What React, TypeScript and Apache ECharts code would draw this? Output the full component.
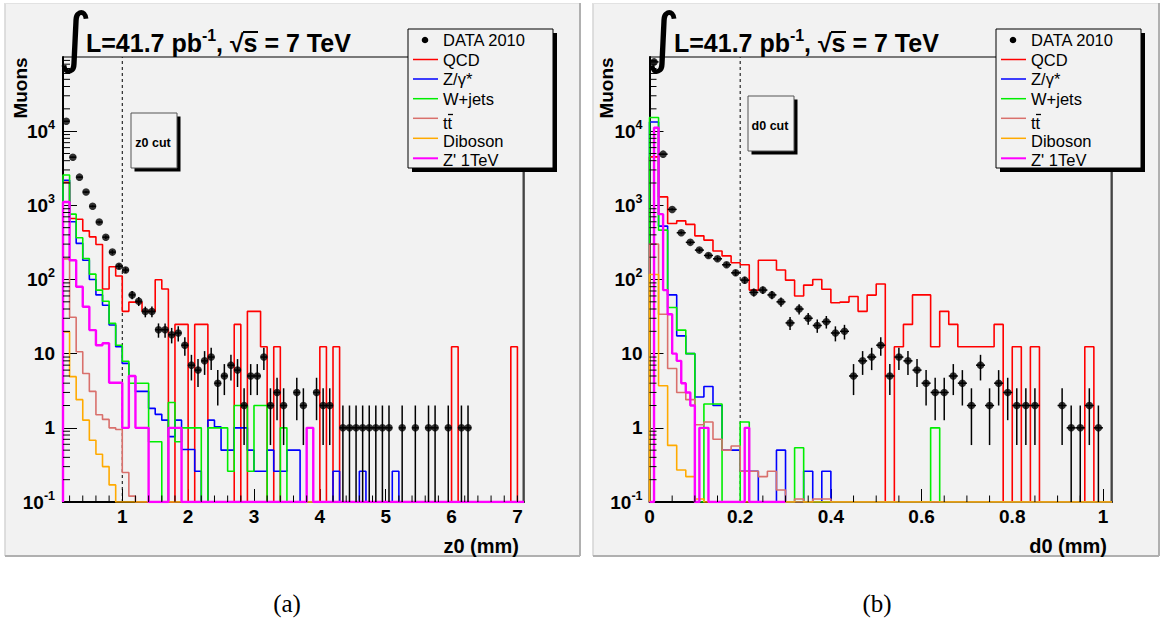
import React, { useEffect, useRef } from "react";
import * as echarts from "echarts";

// ---------------- axes ----------------
const Y_MIN = 0.1;
const Y_MAX = 100000;
const yTickValues = [0.1, 1, 10, 100, 1000, 10000];
const yMinorTickValues = [
  0.2, 0.3, 0.4, 0.5, 0.6, 0.7, 0.8, 0.9,
  2, 3, 4, 5, 6, 7, 8, 9,
  20, 30, 40, 50, 60, 70, 80, 90,
  200, 300, 400, 500, 600, 700, 800, 900,
  2000, 3000, 4000, 5000, 6000, 7000, 8000, 9000,
  20000, 30000, 40000, 50000, 60000, 70000, 80000, 90000,
];

const Z0_MIN = 0.1;
const Z0_MAX = 7.1;
const Z0_BW = 0.1;
const z0TickValues = [1, 2, 3, 4, 5, 6, 7];
const z0MinorTickValues = [
  0.2, 0.4, 0.6, 0.8, 1.2, 1.4, 1.6, 1.8, 2.2, 2.4, 2.6, 2.8, 3.2, 3.4, 3.6, 3.8,
  4.2, 4.4, 4.6, 4.8, 5.2, 5.4, 5.6, 5.8, 6.2, 6.4, 6.6, 6.8, 7.0,
];
const Z0_CUT = 1;

const D0_MIN = 0;
const D0_MAX = 1.02;
const D0_BW = 0.02;
const D0_ZP_BW = 0.01;
const d0TickValues = [0, 0.2, 0.4, 0.6, 0.8, 1];
const d0MinorTickValues = [
  0.05, 0.1, 0.15, 0.25, 0.3, 0.35, 0.45, 0.5, 0.55, 0.65, 0.7, 0.75, 0.85, 0.9, 0.95,
];
const D0_CUT = 0.2;

// ---------------- z0 histograms (bins of 0.1 from 0.1) ----------------
const z0Data = [
  13600, 4460, 2400, 1510, 970, 595, 372, 234, 151, 134,
  62, 51, 37, 37, 21, 21, 18, 19, 13, 7,
  6, 8, 9, 4, 5, 7, 6, 2, 5, 5,
  9, 2, 3, 2, 0, 3, 2, 0, 3, 2,
  2, 0, 1, 1, 1, 1, 1, 1, 1, 1,
  0, 1, 0, 1, 0, 1, 1, 0, 1, 0,
  1, 1, 0, 0, 0, 0, 0, 0, 0, 0,
];
const z0QCD = [
  2040, 666, 650, 453, 376, 297, 74.4, 148.8, 111.6, 37.2,
  49.6, 49.6, 37.2, 37.2, 99.2, 74.4, 0, 24.8, 24.8, 0,
  24.8, 24.8, 0, 0, 0, 0, 24.8, 0, 37.2, 37.2,
  12.4, 0, 12.4, 0, 0, 0, 0, 0, 0, 12.4,
  0, 12.4, 0, 0, 0, 0, 0, 0, 0, 0,
  0, 0, 0, 0, 0, 0, 0, 0, 0, 12.4,
  0, 0, 0, 0, 0, 0, 0, 0, 12.4, 0,
];
const z0Zgamma = [
  2180, 600, 307, 182, 100, 62, 45, 24.4, 12.4, 7.4,
  5, 3.1, 3.1, 1.83, 1.52, 1.27, 0.76, 1.27, 0.51, 0.51,
  0.26, 0, 1.27, 1.03, 0.5, 0.5, 1.0, 1.0, 0.5, 0.26,
  0.26, 0.5, 0.26, 0.26, 0.5, 0.5, 0, 0, 0, 0,
  0, 0.26, 0, 0, 0, 0.26, 0, 0, 0, 0,
  0.26, 0, 0, 0, 0, 0, 0, 0, 0, 0,
  0, 0, 0, 0, 0, 0, 0, 0, 0, 0,
];
const z0Wjets = [
  2570, 760, 365, 192, 118, 72, 51, 25.6, 13, 7.9,
  4, 4, 4, 0.65, 0.65, 0, 2.2, 0.65, 1, 1,
  1, 0, 1, 1, 1, 0.26, 2, 2, 0.26, 2,
  2, 0, 0, 1, 0, 0, 0, 0, 0, 0,
  0, 0, 0, 0, 0, 0, 0, 0, 0, 0,
  0, 0, 0, 0, 0, 0, 0, 0, 0, 0,
  0, 0, 0, 0, 0, 0, 0, 0, 0, 0,
];
const z0TTbar = [
  190, 31, 10.6, 5.4, 3.1, 1.5, 1.3, 1.0, 0.95, 0.25,
  0.12, 0, 0, 0, 0, 0, 0, 0, 0, 0,
  0, 0, 0, 0, 0, 0, 0, 0, 0, 0,
  0, 0, 0, 0, 0, 0, 0, 0, 0, 0,
  0, 0, 0, 0, 0, 0, 0, 0, 0, 0,
  0, 0, 0, 0, 0, 0, 0, 0, 0, 0,
  0, 0, 0, 0, 0, 0, 0, 0, 0, 0,
];
const z0Diboson = [
  19.7, 4.9, 2.4, 1.27, 0.68, 0.44, 0.3, 0.17, 0.1, 0,
  0, 0, 0, 0, 0, 0, 0, 0, 0, 0,
  0, 0, 0, 0, 0, 0, 0, 0, 0, 0,
  0, 0, 0, 0, 0, 0, 0, 0, 0, 0,
  0, 0, 0, 0, 0, 0, 0, 0, 0, 0,
  0, 0, 0, 0, 0, 0, 0, 0, 0, 0,
  0, 0, 0, 0, 0, 0, 0, 0, 0, 0,
];
const z0Zprime = [
  1110, 182, 80, 43, 20.8, 13, 13.8, 4.06, 4.06, 1,
  5, 1, 1, 0, 0, 0, 1, 1, 0, 0,
  0, 0, 0, 0, 0, 0, 0, 0, 0, 0,
  0, 0, 0, 0, 0, 0, 0, 1, 0, 0,
  0, 0, 0, 0, 0, 0, 0, 0, 0, 0,
  0, 0, 0, 0, 0, 0, 0, 0, 0, 0,
  0, 0, 0, 0, 0, 0, 0, 0, 0, 0,
];

// ---------------- d0 histograms (bins of 0.02 from 0) ----------------
const d0Data = [
  85900, 4900, 881, 427, 317, 249, 211, 190, 158, 123,
  98, 67, 72, 62, 50, 26, 40, 30, 24, 27,
  19, 20, 5, 8, 9, 13, 5, 9, 8, 6,
  4, 3, 3, 5, 4, 2, 7, 2, 4, 3,
  2, 2, 2, 0, 0, 2, 1, 1, 2, 1,
  0,
];
const d0QCD = [
  4500, 1300, 570, 618, 553, 388, 340, 242, 208, 168,
  158, 72, 182, 182, 134, 98, 60, 84, 100, 74,
  48.5, 49.6, 59, 37.2, 61.6, 86.8, 0, 12.4, 24.8, 62,
  62, 12.4, 37.2, 24.8, 12.4, 12.4, 12.4, 12.4, 24.8, 0,
  12.4, 0, 12.4, 0, 0, 0, 0, 0, 12.4, 0,
  0,
];
const d0Zgamma = [
  13300, 525, 62, 17.4, 10, 2.6, 3.6, 2, 0.5, 0.5,
  0.26, 0.26, 0, 0, 0.5, 0, 0, 0.26, 0, 0.26,
  0, 0, 0, 0, 0, 0, 0, 0, 0, 0,
  0, 0, 0, 0, 0, 0, 0, 0, 0, 0,
  0, 0, 0, 0, 0, 0, 0, 0, 0, 0,
  0,
];
const d0Wjets = [
  15300, 463, 42, 20.8, 10, 0, 2.1, 2.1, 0, 0,
  1.2, 0, 0, 0, 0, 0, 0.54, 0, 0, 0,
  0, 0, 0, 0, 0, 0, 0, 0, 0, 0,
  0, 1, 0, 0, 0, 0, 0, 0, 0, 0,
  0, 0, 0, 0, 0, 0, 0, 0, 0, 0,
  0,
];
const d0TTbar = [
  300, 34, 6.3, 3, 2.4, 1.1, 1.2, 0.7, 0.5, 0.57,
  0.26, 0.26, 0.22, 0.26, 0.145, 0, 0.11, 0, 0.11, 0.11,
  0, 0, 0, 0, 0, 0, 0, 0, 0, 0,
  0, 0, 0, 0, 0, 0, 0, 0, 0, 0,
  0, 0, 0, 0, 0, 0, 0, 0, 0, 0,
  0,
];
const d0Diboson = [
  117, 3.7, 0.58, 0.27, 0.22, 0.11, 0, 0, 0, 0,
  0, 0, 0, 0, 0, 0, 0, 0, 0, 0,
  0, 0, 0, 0, 0, 0, 0, 0, 0, 0,
  0, 0, 0, 0, 0, 0, 0, 0, 0, 0,
  0, 0, 0, 0, 0, 0, 0, 0, 0, 0,
  0,
];
// Z' uses bins of 0.01
const d0Zprime = [
  0, 11100, 760, 72, 34, 10, 8, 4, 3, 2,
  0, 1, 1, 0, 0, 0, 0, 0, 0, 0,
  0, 1, 0, 0, 0, 0, 0, 0, 0, 0,
];

const legendLabels = ["DATA 2010", "QCD", "Z/\u03b3*", "W+jets", "tt", "Diboson", "Z' 1TeV"];
const C_QCD = "#ff0000";
const C_Z = "#0000ff";
const C_W = "#00ee00";
const C_TT = "#d9706c";
const C_DIB = "#ffaa00";
const C_ZP = "#ff00ff";
const lineColors = [C_QCD, C_Z, C_W, C_TT, C_DIB, C_ZP];

const FONT = "Liberation Sans";

// ---------------- helpers ----------------
function steps(vals: number[], x0: number, w: number) {
  const pts: number[][] = [[x0, Y_MIN]];
  vals.forEach((v, i) => {
    const y = Math.max(v, Y_MIN);
    pts.push([x0 + i * w, y], [x0 + (i + 1) * w, y]);
  });
  pts.push([x0 + vals.length * w, Y_MIN]);
  return pts;
}

function histSeries(vals: number[], x0: number, w: number, ax: number, color: string, width: number) {
  return {
    type: "line",
    xAxisIndex: ax,
    yAxisIndex: ax,
    data: steps(vals, x0, w),
    symbol: "none",
    showSymbol: false,
    silent: true,
    clip: true,
    lineStyle: { color, width },
    z: 3,
  };
}

function dataSeries(vals: number[], x0: number, w: number, ax: number) {
  const pts: number[][] = [];
  vals.forEach((v, i) => {
    if (v > 0) pts.push([x0 + (i + 0.5) * w, v]);
  });
  return {
    type: "scatter",
    xAxisIndex: ax,
    yAxisIndex: ax,
    data: pts,
    symbol: "circle",
    symbolSize: 7.5,
    silent: true,
    itemStyle: { color: "#000" },
    z: 6,
  };
}

function errSeries(vals: number[], x0: number, w: number, ax: number) {
  const d: number[][] = [];
  vals.forEach((v, i) => {
    if (v > 0) {
      const e = Math.sqrt(v);
      d.push([x0 + (i + 0.5) * w, v, Math.max(v - e, Y_MIN), v + e, w]);
    }
  });
  return {
    type: "custom",
    xAxisIndex: ax,
    yAxisIndex: ax,
    data: d,
    clip: true,
    silent: true,
    encode: { x: 0, y: 1 },
    z: 5,
    renderItem: (_p: any, api: any) => {
      const x = api.value(0);
      const v = api.value(1);
      const lo = api.value(2);
      const hi = api.value(3);
      const bw = api.value(4);
      const a = api.coord([x, lo]);
      const b = api.coord([x, hi]);
      const l = api.coord([x - bw / 2, v]);
      const r = api.coord([x + bw / 2, v]);
      return {
        type: "group",
        children: [
          { type: "line", shape: { x1: a[0], y1: a[1], x2: b[0], y2: b[1] }, style: { stroke: "#000", lineWidth: 1.5 } },
          { type: "line", shape: { x1: l[0], y1: l[1], x2: r[0], y2: r[1] }, style: { stroke: "#000", lineWidth: 1.5 } },
        ],
      };
    },
  };
}

function yMinorSeries(ax: number, xMin: number) {
  return {
    type: "custom",
    xAxisIndex: ax,
    yAxisIndex: ax,
    data: yMinorTickValues.map((v) => [xMin, v]),
    silent: true,
    encode: { x: 0, y: 1 },
    z: 4,
    renderItem: (_p: any, api: any) => {
      const p = api.coord([api.value(0), api.value(1)]);
      return { type: "line", shape: { x1: p[0], y1: p[1], x2: p[0] + 7, y2: p[1] }, style: { stroke: "#000", lineWidth: 1 } };
    },
  };
}

function xMinorSeries(ax: number, ticks: number[]) {
  return {
    type: "custom",
    xAxisIndex: ax,
    yAxisIndex: ax,
    data: ticks.map((v) => [v, Y_MIN]),
    silent: true,
    encode: { x: 0, y: 1 },
    z: 4,
    renderItem: (_p: any, api: any) => {
      const p = api.coord([api.value(0), api.value(1)]);
      return { type: "line", shape: { x1: p[0], y1: p[1], x2: p[0], y2: p[1] - 6.5 }, style: { stroke: "#000", lineWidth: 1 } };
    },
  };
}

function cutSeries(ax: number, x: number) {
  return {
    type: "line",
    xAxisIndex: ax,
    yAxisIndex: ax,
    data: [
      [x, Y_MIN],
      [x, Y_MAX],
    ],
    symbol: "none",
    silent: true,
    lineStyle: { color: "#000", width: 1, type: [3, 3] },
    z: 2,
  };
}

function yAxisDef(ax: number, margin: number) {
  return {
    gridIndex: ax,
    type: "log",
    logBase: 10,
    min: Y_MIN,
    max: Y_MAX,
    axisLine: { show: true, onZero: false, lineStyle: { color: "#000", width: 2 } },
    axisTick: { show: true, inside: true, length: 14, customValues: yTickValues, lineStyle: { color: "#000", width: 1 } },
    axisLabel: {
      customValues: yTickValues,
      margin,
      formatter: (v: number) => {
        const e = Math.round(Math.log10(v));
        if (e === 0) return "{b|1}";
        if (e === 1) return "{b|10}";
        return `{b|10}{s|${e}}`;
      },
      rich: {
        b: { fontSize: 19, fontWeight: "bold", fontFamily: FONT, color: "#000", lineHeight: 26, verticalAlign: "middle" },
        s: { fontSize: 12.5, fontWeight: "bold", fontFamily: FONT, color: "#000", lineHeight: 13, verticalAlign: "top" },
      },
    },
    splitLine: { show: false },
  };
}

function xAxisDef(ax: number, min: number, max: number, ticks: number[]) {
  return {
    gridIndex: ax,
    type: "value",
    min,
    max,
    axisLine: { show: true, onZero: false, lineStyle: { color: "#000", width: 2 } },
    axisTick: { show: true, inside: true, length: 13, customValues: ticks, lineStyle: { color: "#000", width: 1 } },
    axisLabel: {
      customValues: ticks,
      margin: 5,
      fontSize: 19,
      fontWeight: "bold",
      fontFamily: FONT,
      color: "#000",
      formatter: (v: number) => String(Math.round(v * 100) / 100),
    },
    splitLine: { show: false },
  };
}

function panelGraphics(dx: number, px: number, pw: number, cut: { x: number; y: number; label: string }, xTitle: string, xTitleRight: number, caption: string, capX: number, muonsX: number, frameX: number) {
  const g: any[] = [];
  // panel background and bevel
  g.push({ type: "rect", shape: { x: px, y: 3, width: pw, height: 553 }, style: { fill: "#f2f2f2" }, z: -10 });
  g.push({ type: "line", shape: { x1: px, y1: 3, x2: px, y2: 556 }, style: { stroke: "#d4d4d4", lineWidth: 1.5 }, z: -9 });
  g.push({ type: "line", shape: { x1: px, y1: 3.5, x2: px + pw, y2: 3.5 }, style: { stroke: "#e2e2e2", lineWidth: 1 }, z: -9 });
  g.push({ type: "line", shape: { x1: px, y1: 556, x2: px + pw, y2: 556 }, style: { stroke: "#b0b0b0", lineWidth: 2 }, z: -9 });
  g.push({ type: "line", shape: { x1: px + pw, y1: 3, x2: px + pw, y2: 556 }, style: { stroke: "#b0b0b0", lineWidth: 2 }, z: -9 });
  // darker right frame of the plot
  g.push({ type: "line", shape: { x1: frameX, y1: 57, x2: frameX, y2: 502 }, style: { stroke: "#444", lineWidth: 2 }, z: 1 });

  // title
  g.push({ type: "text", x: 75 + dx, y: 37, style: { text: "\u222b", fontSize: 66, fontFamily: "DejaVu Sans", fill: "#000", align: "center", verticalAlign: "middle" }, z: 20 });
  g.push({ type: "text", x: 86 + dx, y: 43, style: { text: "L=41.7 pb", fontSize: 25, fontWeight: "bold", fontFamily: FONT, fill: "#000", verticalAlign: "middle" }, z: 20 });
  g.push({ type: "text", x: 202 + dx, y: 35, style: { text: "-1", fontSize: 16, fontWeight: "bold", fontFamily: FONT, fill: "#000", verticalAlign: "middle" }, z: 20 });
  g.push({ type: "text", x: 216 + dx, y: 43, style: { text: ", \u221as = 7 TeV", fontSize: 25, fontWeight: "bold", fontFamily: FONT, fill: "#000", verticalAlign: "middle" }, z: 20 });
  g.push({ type: "line", shape: { x1: 243 + dx, y1: 32, x2: 258 + dx, y2: 32 }, style: { stroke: "#000", lineWidth: 2 }, z: 20 });

  // legend
  const lx = 408 + dx;
  g.push({ type: "rect", shape: { x: lx + 4, y: 33, width: 145, height: 139 }, style: { fill: "#000" }, z: 30 });
  g.push({ type: "rect", shape: { x: lx, y: 29, width: 145, height: 139 }, style: { fill: "#f2f2f2", stroke: "#000", lineWidth: 1 }, z: 31 });
  const rowY = [40, 59.5, 79, 98.7, 118.3, 138.3, 158.3];
  const textY = [40, 60, 78.5, 98.5, 122.5, 140.5, 160];
  g.push({ type: "circle", shape: { cx: lx + 17, cy: rowY[0], r: 3.3 }, style: { fill: "#000" }, z: 32 });
  lineColors.forEach((c, i) => {
    g.push({ type: "line", shape: { x1: lx + 5, y1: rowY[i + 1], x2: lx + 30, y2: rowY[i + 1] }, style: { stroke: c, lineWidth: i === 5 ? 2 : 1.5 }, z: 32 });
  });
  legendLabels.forEach((t, i) => {
    g.push({ type: "text", x: lx + 35, y: textY[i], style: { text: t, fontSize: 16.5, fontFamily: FONT, fill: "#000", verticalAlign: "middle" }, z: 32 });
  });
  g.push({ type: "line", shape: { x1: lx + 40, y1: 114.5, x2: lx + 45, y2: 114.5 }, style: { stroke: "#000", lineWidth: 1.3 }, z: 32 });

  // cut box
  g.push({ type: "rect", shape: { x: cut.x + 3.5, y: cut.y + 3.5, width: 46, height: 55 }, style: { fill: "#000" }, z: 25 });
  g.push({ type: "rect", shape: { x: cut.x, y: cut.y, width: 46, height: 55 }, style: { fill: "#f2f2f2", stroke: "#555", lineWidth: 1 }, z: 26 });
  g.push({ type: "text", x: cut.x + 22, y: cut.y + 30, style: { text: cut.label, fontSize: 12.5, fontWeight: "bold", fontFamily: FONT, fill: "#000", align: "center", verticalAlign: "middle" }, z: 27 });

  // axis titles
  g.push({ type: "text", x: muonsX, y: 88, rotation: Math.PI / 2, style: { text: "Muons", fontSize: 19, fontWeight: "bold", fontFamily: FONT, fill: "#000", align: "center", verticalAlign: "middle" }, z: 20 });
  g.push({ type: "text", x: xTitleRight, y: 546, style: { text: xTitle, fontSize: 20, fontWeight: "bold", fontFamily: FONT, fill: "#000", align: "right", verticalAlign: "middle" }, z: 20 });

  // caption
  g.push({ type: "text", x: capX, y: 603, style: { text: caption, fontSize: 25, fontFamily: "Liberation Serif", fill: "#000", align: "center", verticalAlign: "middle" }, z: 20 });
  return g;
}

// ---------------- option ----------------
function buildOption() {
  const series: any[] = [];
  // z0 panel (index 0)
  series.push(cutSeries(0, Z0_CUT));
  series.push(histSeries(z0QCD, Z0_MIN, Z0_BW, 0, C_QCD, 1.6));
  series.push(histSeries(z0Zgamma, Z0_MIN, Z0_BW, 0, C_Z, 1.6));
  series.push(histSeries(z0Wjets, Z0_MIN, Z0_BW, 0, C_W, 1.6));
  series.push(histSeries(z0TTbar, Z0_MIN, Z0_BW, 0, C_TT, 1.6));
  series.push(histSeries(z0Diboson, Z0_MIN, Z0_BW, 0, C_DIB, 1.6));
  series.push(histSeries(z0Zprime, Z0_MIN, Z0_BW, 0, C_ZP, 2.4));
  series.push(errSeries(z0Data, Z0_MIN, Z0_BW, 0));
  series.push(dataSeries(z0Data, Z0_MIN, Z0_BW, 0));
  series.push(yMinorSeries(0, Z0_MIN));
  series.push(xMinorSeries(0, z0MinorTickValues));
  // d0 panel (index 1)
  series.push(cutSeries(1, D0_CUT));
  series.push(histSeries(d0QCD, D0_MIN, D0_BW, 1, C_QCD, 1.6));
  series.push(histSeries(d0Zgamma, D0_MIN, D0_BW, 1, C_Z, 1.6));
  series.push(histSeries(d0Wjets, D0_MIN, D0_BW, 1, C_W, 1.6));
  series.push(histSeries(d0TTbar, D0_MIN, D0_BW, 1, C_TT, 1.6));
  series.push(histSeries(d0Diboson, D0_MIN, D0_BW, 1, C_DIB, 1.6));
  series.push(histSeries(d0Zprime, D0_MIN, D0_ZP_BW, 1, C_ZP, 2.4));
  series.push(errSeries(d0Data, D0_MIN, D0_BW, 1));
  series.push(dataSeries(d0Data, D0_MIN, D0_BW, 1));
  series.push(yMinorSeries(1, D0_MIN));
  series.push(xMinorSeries(1, d0MinorTickValues));

  const graphic = [
    ...panelGraphics(0, 5, 575, { x: 131, y: 113, label: "z0 cut" }, "z0 (mm)", 519, "(a)", 287, 20, 523.5),
    ...panelGraphics(588, 593, 566, { x: 748, y: 96, label: "d0 cut" }, "d0 (mm)", 1107, "(b)", 877, 606, 1111.5),
  ];

  return {
    animation: false,
    backgroundColor: "#ffffff",
    textStyle: { fontFamily: FONT },
    grid: [
      { left: 63, top: 57, width: 461, height: 445, show: true, borderColor: "#000", borderWidth: 1, backgroundColor: "transparent" },
      { left: 649.5, top: 57, width: 462.5, height: 445, show: true, borderColor: "#000", borderWidth: 1, backgroundColor: "transparent" },
    ],
    xAxis: [xAxisDef(0, Z0_MIN, Z0_MAX, z0TickValues), xAxisDef(1, D0_MIN, D0_MAX, d0TickValues)],
    yAxis: [yAxisDef(0, 8), yAxisDef(1, 7)],
    series,
    graphic,
  };
}

export default function App() {
  const ref = useRef<HTMLDivElement>(null);
  useEffect(() => {
    if (!ref.current) return;
    const chart = echarts.init(ref.current, undefined, { renderer: "svg" });
    chart.setOption(buildOption() as any);
    return () => chart.dispose();
  }, []);
  return (
    <div
      ref={ref}
      style={{ position: "absolute", left: 0, top: 0, width: 1161, height: 619, background: "#ffffff" }}
    />
  );
}
